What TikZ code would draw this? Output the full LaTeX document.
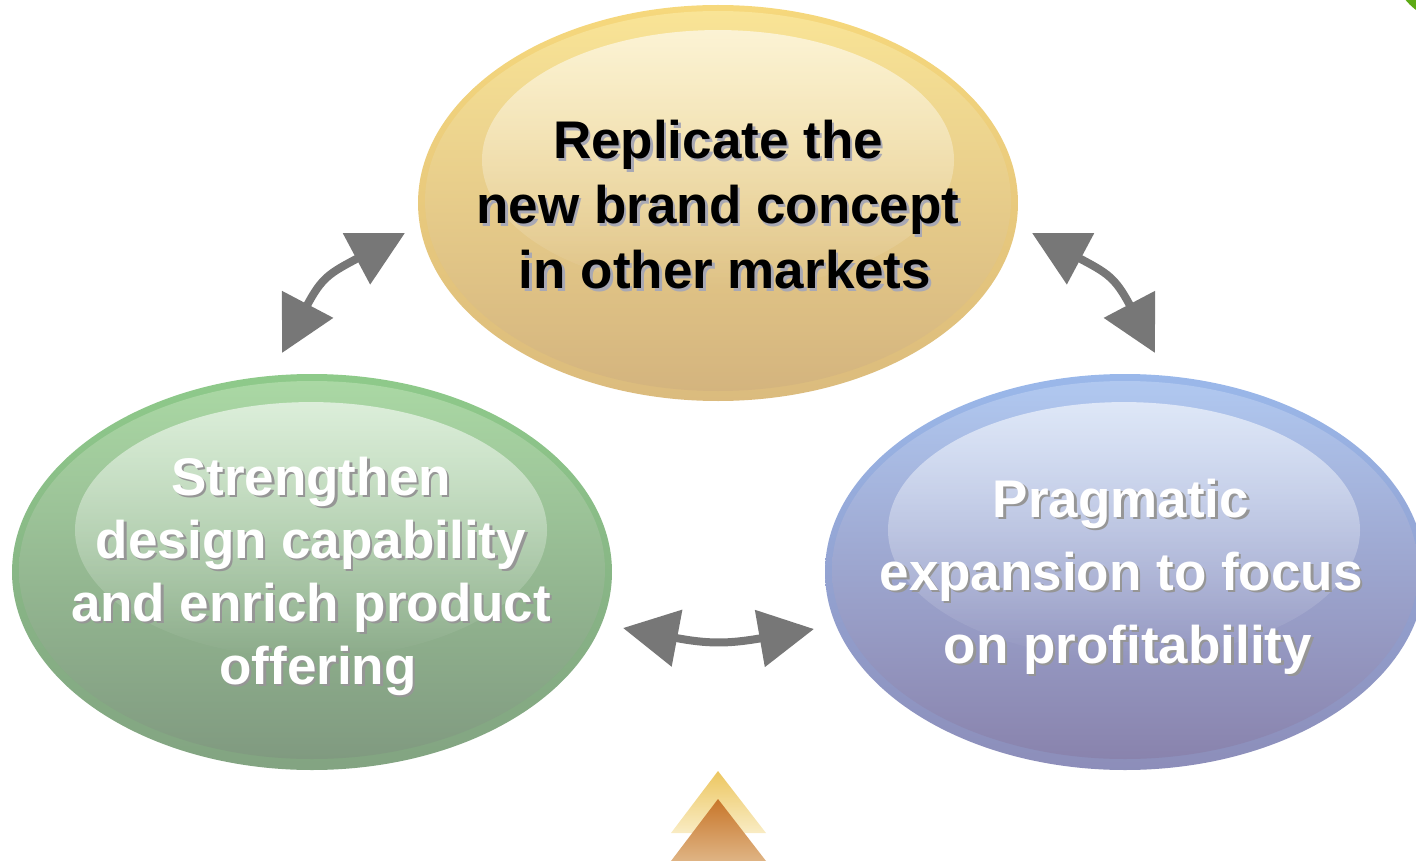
\documentclass[tikz,border=0pt]{standalone}
\usepackage{fontspec}
\setmainfont{Liberation Sans}
\usepackage{xcolor}
\usetikzlibrary{arrows.meta, fadings, shapes.geometric}

\definecolor{goldrim}{RGB}{246,216,124}
\definecolor{goldtop}{RGB}{249,228,150}
\definecolor{goldmid}{RGB}{245,222,146}
\definecolor{goldbot}{RGB}{212,180,126}
\definecolor{greenrim}{RGB}{142,202,138}
\definecolor{greentop}{RGB}{170,216,164}
\definecolor{greenmid}{RGB}{150,198,146}
\definecolor{greenbot}{RGB}{128,154,128}
\definecolor{bluerim}{RGB}{154,184,234}
\definecolor{bluetop}{RGB}{176,200,240}
\definecolor{bluemid}{RGB}{156,178,222}
\definecolor{bluebot}{RGB}{137,131,173}
\definecolor{arrowgray}{RGB}{119,119,119}
\definecolor{inkshadow}{RGB}{168,168,180}
\definecolor{paleshadow}{RGB}{150,150,150}
\definecolor{leafgreen}{RGB}{92,170,20}

\tikzfading[name=gloss, top color=transparent!40, bottom color=transparent!100]

\newcommand{\goldtext}{Replicate the\\new brand concept\\\hspace*{14pt}in other markets}
\newcommand{\greentext}{Strengthen\\design capability\\and enrich product\\\hspace*{14pt}offering}
\newcommand{\bluetext}{Pragmatic\\expansion to focus\\\hspace*{14pt}on profitability}

\begin{document}
\begin{tikzpicture}[x=1pt, y=-1pt,
    bubble/.style={ellipse, minimum width=600pt, minimum height=396pt, inner sep=0pt, shade},
    inner/.style={shade},
    bubbletext/.style={align=center, inner sep=0pt, font=\bfseries\fontsize{53}{#1}\selectfont},
    twoway/.style={arrowgray, line width=8pt,
      {Triangle[length=55pt, width=56pt]}-{Triangle[length=55pt, width=56pt]}}]
	\useasboundingbox (0,0) rectangle (1416,861);

	% Corner leaf
	\fill[leafgreen] (1452,-38) circle (60);

	% Bubbles
	\node[bubble, top color=goldrim, bottom color=goldbot!80!goldrim] (gold) at (718,203) {};
	\node[bubble, top color=greenrim, bottom color=greenbot!80!greenrim] (green) at (312,572) {};
	\node[bubble, top color=bluerim, bottom color=bluebot!80!bluerim] (blue) at (1125,572) {};

	% Inner bodies
	\shade[inner, top color=goldtop, middle color=goldmid, bottom color=goldbot] (718,201) ellipse [x radius=293, y radius=190];
	\shade[inner, top color=greentop, middle color=greenmid, bottom color=greenbot] (312,570) ellipse [x radius=293, y radius=189];
	\shade[inner, top color=bluetop, middle color=bluemid, bottom color=bluebot] (1125,570) ellipse [x radius=293, y radius=189];

	% Gloss on top
	\fill[white, path fading=gloss] (718,160) ellipse [x radius=236, y radius=130];
	\fill[white, path fading=gloss] (311,530) ellipse [x radius=236, y radius=128];
	\fill[white, path fading=gloss] (1124,530) ellipse [x radius=236, y radius=128];

	% Labels with drop shadow
	\node[bubbletext=65, inkshadow] (goldshadow) at (720.5,207.5) {\goldtext};
	\node[bubbletext=65] (goldlabel) at (718,205) {\goldtext};
	\node[bubbletext=63, paleshadow] (greenshadow) at (313.5,578.5) {\greentext};
	\node[bubbletext=63, white] (greenlabel) at (311,576) {\greentext};
	\node[bubbletext=73, paleshadow] (blueshadow) at (1123.5,579) {\bluetext};
	\node[bubbletext=73, white] (bluelabel) at (1121,576.5) {\bluetext};

	% Arrow ends
	\coordinate (gl-a) at (282,353);
	\coordinate (gl-b) at (405,233);
	\coordinate (gr-a) at (1155,353);
	\coordinate (gr-b) at (1032,233);
	\coordinate (lr-a) at (623,628);
	\coordinate (lr-b) at (814,629);

	% Two-way arrows
	\draw[twoway] (gl-a) .. controls (322,277) and (330,273) .. (gl-b);
	\draw[twoway] (gr-a) .. controls (1115,277) and (1107,273) .. (gr-b);
	\draw[twoway] (lr-a) .. controls (708,644) and (728,644) .. (lr-b);

	% Triangles at the bottom
	\shade[top color={rgb,255:red,236;green,198;blue,96}, bottom color={rgb,255:red,249;green,236;blue,196}]
		(718,771) -- (766,833) -- (671,833) -- cycle;
	\shade[top color={rgb,255:red,200;green,118;blue,42}, bottom color={rgb,255:red,223;green,180;blue,132}]
		(718,799) -- (766,861) -- (671,861) -- cycle;

\end{tikzpicture}
\end{document}
